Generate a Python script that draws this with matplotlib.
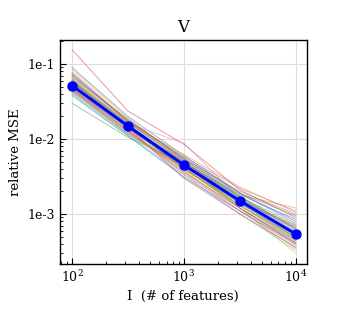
import math
import matplotlib
matplotlib.use("Agg")
import matplotlib.pyplot as plt
from matplotlib.ticker import FuncFormatter, LogLocator, NullFormatter

# number of features (x) and relative MSE values
n_features = [100, 316, 1000, 3162, 10000]
mean_mse = [0.0514, 0.0149, 0.0045, 0.0015, 0.00054]

runs_mse = [
    [0.090, 0.0200, 0.0060, 0.0019, 0.00080],
    [0.085, 0.0190, 0.0052, 0.0018, 0.00120],
    [0.030, 0.0105, 0.0048, 0.0012, 0.00042],
    [0.155, 0.0236, 0.0085, 0.0021, 0.00090],
    [0.078, 0.0175, 0.0058, 0.0022, 0.00110],
    [0.072, 0.0168, 0.0050, 0.0017, 0.00065],
    [0.068, 0.0160, 0.0088, 0.0016, 0.00060],
    [0.066, 0.0185, 0.0055, 0.0020, 0.00100],
    [0.063, 0.0158, 0.0044, 0.0014, 0.00050],
    [0.061, 0.0150, 0.0049, 0.0016, 0.00058],
    [0.060, 0.0145, 0.0040, 0.0013, 0.00045],
    [0.058, 0.0170, 0.0051, 0.0015, 0.00070],
    [0.057, 0.0152, 0.0046, 0.0017, 0.00062],
    [0.056, 0.0140, 0.0043, 0.0014, 0.00048],
    [0.055, 0.0162, 0.0053, 0.0019, 0.00075],
    [0.054, 0.0148, 0.0041, 0.0012, 0.00040],
    [0.053, 0.0138, 0.0045, 0.0015, 0.00055],
    [0.052, 0.0155, 0.0047, 0.0016, 0.00068],
    [0.051, 0.0142, 0.0039, 0.0013, 0.00046],
    [0.050, 0.0135, 0.0044, 0.0014, 0.00052],
    [0.049, 0.0150, 0.0048, 0.0018, 0.00085],
    [0.048, 0.0130, 0.0038, 0.0011, 0.00035],
    [0.047, 0.0140, 0.0046, 0.0015, 0.00057],
    [0.046, 0.0128, 0.0036, 0.0012, 0.00044],
    [0.045, 0.0145, 0.0050, 0.0016, 0.00063],
    [0.044, 0.0125, 0.0042, 0.0013, 0.00049],
    [0.043, 0.0133, 0.0035, 0.0011, 0.00038],
    [0.042, 0.0120, 0.0040, 0.0014, 0.00053],
    [0.041, 0.0118, 0.0037, 0.0012, 0.00030],
    [0.040, 0.0112, 0.0033, 0.0010, 0.00033],
    [0.038, 0.0110, 0.0031, 0.0011, 0.00041],
    [0.064, 0.0165, 0.0062, 0.0023, 0.00105],
    [0.070, 0.0178, 0.0054, 0.0017, 0.00072],
    [0.059, 0.0143, 0.0030, 0.0010, 0.00036],
    [0.046, 0.0115, 0.0043, 0.0015, 0.00066],
    [0.075, 0.0172, 0.0056, 0.0019, 0.00095],
    [0.052, 0.0127, 0.0034, 0.0011, 0.00039],
    [0.062, 0.0156, 0.0049, 0.0015, 0.00056],
    [0.049, 0.0122, 0.0041, 0.0013, 0.00047],
    [0.057, 0.0160, 0.0045, 0.0014, 0.00051],
]

plt.rcParams['font.family'] = ['DejaVu Serif']
plt.rcParams['mathtext.fontset'] = 'dejavuserif'

fig = plt.figure(figsize=(3.44, 3.31), dpi=100)
ax = fig.add_axes([0.1744, 0.2024, 0.7166, 0.6767])

# thin lines for each run
for run in runs_mse:
    ax.plot(n_features, run, lw=0.6, alpha=0.55)

# mean line
ax.plot(n_features, mean_mse, color='blue', lw=2.0, marker='o', markersize=6.5, zorder=5)

ax.set_xscale('log')
ax.set_yscale('log')
ax.set_xlim(78, 12500)
ax.set_ylim(2.15e-4, 0.209)

ax.grid(True, which='major', color='#dddddd', lw=0.8)
ax.set_axisbelow(True)

ax.yaxis.set_major_locator(LogLocator(base=10))
ax.yaxis.set_major_formatter(FuncFormatter(lambda v, p: '1e%d' % round(math.log10(v))))
ax.yaxis.set_minor_formatter(NullFormatter())

ax.tick_params(which='both', direction='in', labelsize=9)
ax.tick_params(which='major', length=4, width=0.8)
ax.tick_params(which='minor', length=2, width=0.6)
for s in ax.spines.values():
    s.set_linewidth(1.0)

ax.set_title('V', fontsize=12)
ax.set_xlabel('I  (# of features)', fontsize=9.5)
ax.set_ylabel('relative MSE', fontsize=9.5)

plt.savefig('out.png', dpi=100)
plt.close()
